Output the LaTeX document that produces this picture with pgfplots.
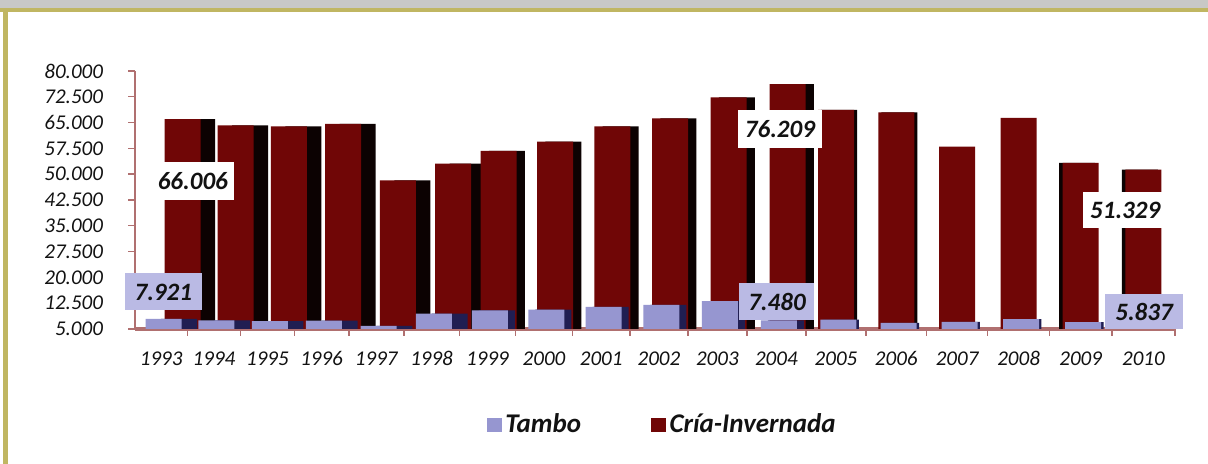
\documentclass[border=0pt]{standalone}
\usepackage{pgfplots}
\pgfplotsset{compat=1.18}
\usepackage{fontspec}
\setmainfont{Carlito}
\definecolor{cria}{RGB}{112,6,6}
\definecolor{criaside}{RGB}{12,2,2}
\definecolor{tambo}{RGB}{150,150,208}
\definecolor{tamboside}{RGB}{32,30,82}
\definecolor{boxlav}{RGB}{186,186,228}
\definecolor{axiscol}{RGB}{176,112,112}
\definecolor{olivec}{RGB}{192,182,98}
\definecolor{bandgray}{RGB}{200,200,198}
\definecolor{txt}{RGB}{18,18,18}
\begin{document}
\begin{tikzpicture}[x=1pt,y=1pt]
\useasboundingbox (0,0) rectangle (604,232);
\fill[white] (0,0) rectangle (604,232);
\fill[bandgray] (0,228) rectangle (604,232);
\fill[olivec] (0,225.8) rectangle (604,228.2);
\fill[olivec] (1.5,0) rectangle (4,228);
\begin{axis}[
  at={(67.5pt,67.5pt)}, anchor=south west,
  scale only axis, width=520pt, height=129pt,
  clip=false,
  xmin=1992.5, xmax=2010.5, ymin=5000, ymax=80000,
  x coord trafo/.code={\pgfmathparse{135+52.22*(#1-1992.5)+0.3086*(#1-1992.5)*(#1-1992.5)}},
  axis lines*=left,
  axis line style={axiscol, line width=0.8pt},
  x axis line style={line width=1.6pt},
  tick align=outside, major tick length=3.5pt,
  tick style={axiscol, line width=0.7pt},
  xtick={1993.5,1994.5,1995.5,1996.5,1997.5,1998.5,1999.5,2000.5,2001.5,2002.5,2003.5,2004.5,2005.5,2006.5,2007.5,2008.5,2009.5,2010.5},
  xticklabels={},
  extra x ticks={1993,1994,1995,1996,1997,1998,1999,2000,2001,2002,2003,2004,2005,2006,2007,2008,2009,2010},
  extra x tick labels={1993,1994,1995,1996,1997,1998,1999,2000,2001,2002,2003,2004,2005,2006,2007,2008,2009,2010},
  extra x tick style={major tick length=0pt, tick style={draw=none},
     xticklabel style={font=\itshape\fontsize{10.5}{12}\selectfont, text=txt, anchor=north,
       text height=7pt, text depth=0pt, yshift=-7.5pt}},
  ytick={5000,12500,20000,27500,35000,42500,50000,57500,65000,72500,80000},
  scaled y ticks=false,
  yticklabel style={font=\itshape\fontsize{10.5}{12}\selectfont, text=txt, xshift=-9pt,
     /pgf/number format/fixed, /pgf/number format/precision=0,
     /pgf/number format/1000 sep={.}, /pgf/number format/assume math mode=true},
  legend style={at={(0.508,-0.372)}, anchor=center, draw=none, fill=none,
     font=\bfseries\itshape\fontsize{13.5}{15}\selectfont, text=txt,
     /tikz/every even column/.append style={column sep=33pt}},
  legend columns=2,
]
% --- Cria-Invernada: dark side faces (behind)
\addplot[ybar, bar width=18pt, bar shift=18pt, fill=criaside, draw=none, forget plot]
  coordinates {(1993,66006) (1994,64200) (1995,63900) (1996,64600) (1997,48200) (1998,53100)};
\addplot[ybar, bar width=18pt, bar shift=9.7pt, fill=criaside, draw=none, forget plot]
  coordinates {(1999,56800) (2000,59500) (2001,63900) (2002,66200) (2003,72300) (2004,76209)};
\addplot[ybar, bar width=18pt, bar shift=1.6pt, fill=criaside, draw=none, forget plot]
  coordinates {(2005,68700) (2006,68000)};
\addplot[ybar, bar width=18pt, bar shift=-1.8pt, fill=criaside, draw=none, forget plot]
  coordinates {(2009,53300) (2010,51329)};
% --- Cria-Invernada: front faces
\addplot[ybar, bar width=18pt, bar shift=10.75pt, fill=cria, draw=none, forget plot]
  coordinates {(1993,66006) (1994,64200) (1995,63900) (1996,64600) (1997,48200) (1998,53100)};
\addplot[ybar, bar width=18pt, bar shift=5.6pt, fill=cria, draw=none, forget plot]
  coordinates {(1999,56800) (2000,59500) (2001,63900) (2002,66200) (2003,72300) (2004,76209)};
\addplot[ybar, bar width=18pt, bar shift=0pt, fill=cria, draw=none, forget plot]
  coordinates {(2005,68700) (2006,68000) (2007,58000) (2008,66400) (2009,53300) (2010,51329)};
% --- Tambo: dark side faces
\addplot[ybar, bar width=18pt, bar shift=9pt, fill=tamboside, draw=none, forget plot]
  coordinates {(1993,7921) (1994,7500) (1995,7300) (1996,7400) (1997,5900) (1998,9500)};
\addplot[ybar, bar width=18pt, bar shift=4.7pt, fill=tamboside, draw=none, forget plot]
  coordinates {(1999,10400) (2000,10600) (2001,11400) (2002,12000) (2003,13100) (2004,7480)};
\addplot[ybar, bar width=18pt, bar shift=2.4pt, fill=tamboside, draw=none, forget plot]
  coordinates {(2005,7700) (2006,6800) (2007,7100) (2008,7900) (2009,7000) (2010,5837)};
% --- Tambo: front faces
\addplot[ybar, bar width=18pt, bar shift=1.2pt, fill=tambo, draw=none, forget plot]
  coordinates {(1993,7921) (1994,7500) (1995,7300) (1996,7400) (1997,5900) (1998,9500)
               (1999,10400) (2000,10600) (2001,11400) (2002,12000) (2003,13100) (2004,7480)
               (2005,7700) (2006,6800) (2007,7100) (2008,7900) (2009,7000) (2010,5837)};
% --- value labels
\tikzset{vlab/.style={font=\bfseries\itshape\fontsize{12.5}{14}\selectfont, text=txt, inner sep=0pt, minimum height=19pt}}
\node[vlab, fill=white, minimum width=41.5pt] at (axis cs:1993.60,48024) {66.006};
\node[vlab, fill=boxlav, minimum width=38.5pt, minimum height=18.5pt] at (axis cs:1993.04,15756) {7.921};
\node[vlab, fill=white, minimum width=42pt] at (axis cs:2004.06,63140) {76.209};
\node[vlab, fill=boxlav, minimum width=37.5pt, minimum height=18.5pt] at (axis cs:2004.01,12849) {7.480};
\node[vlab, fill=white, minimum width=42pt, minimum height=18pt] at (axis cs:2009.71,39593) {51.329};
\node[vlab, fill=boxlav, minimum width=39pt, minimum height=17.5pt] at (axis cs:2010.01,9942) {5.837};
% --- legend
\addlegendimage{legend image code/.code={\fill[tambo] (0pt,-3.4pt) rectangle (6.8pt,3.4pt);}}
\addlegendentry{Tambo}
\addlegendimage{legend image code/.code={\fill[cria] (0pt,-3.4pt) rectangle (6.8pt,3.4pt);}}
\addlegendentry{Cría-Invernada}
\end{axis}
\end{tikzpicture}
\end{document}
